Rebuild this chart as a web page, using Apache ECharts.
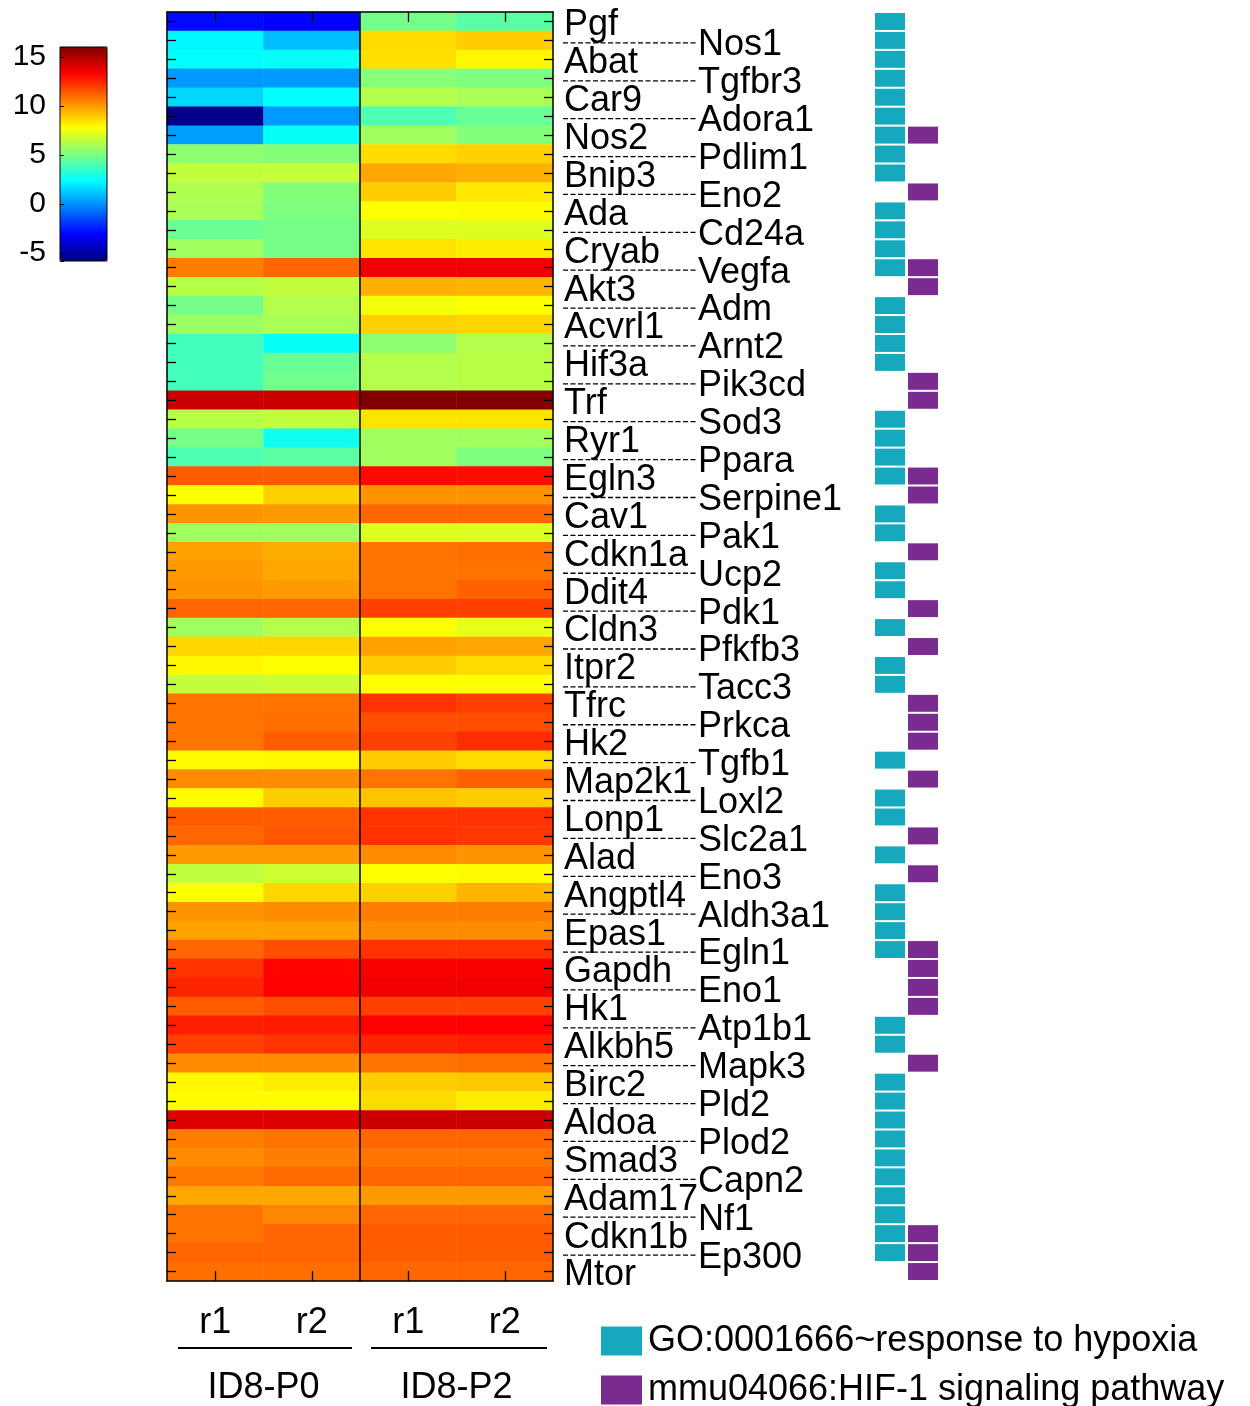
<!DOCTYPE html>
<html><head><meta charset="utf-8">
<script src="https://cdn.jsdelivr.net/npm/echarts@6/dist/echarts.min.js"></script>
<style>html,body{margin:0;padding:0;background:#fff}#c{width:1250px;height:1406px}</style>
</head><body><div id="c"></div>
<script>
const genes = ['Pgf','Nos1','Abat','Tgfbr3','Car9','Adora1','Nos2','Pdlim1','Bnip3','Eno2','Ada','Cd24a','Cryab','Vegfa','Akt3','Adm','Acvrl1','Arnt2','Hif3a','Pik3cd','Trf','Sod3','Ryr1','Ppara','Egln3','Serpine1','Cav1','Pak1','Cdkn1a','Ucp2','Ddit4','Pdk1','Cldn3','Pfkfb3','Itpr2','Tacc3','Tfrc','Prkca','Hk2','Tgfb1','Map2k1','Loxl2','Lonp1','Slc2a1','Alad','Eno3','Angptl4','Aldh3a1','Epas1','Egln1','Gapdh','Eno1','Hk1','Atp1b1','Alkbh5','Mapk3','Birc2','Pld2','Aldoa','Plod2','Smad3','Capn2','Adam17','Nf1','Cdkn1b','Ep300','Mtor'];
const sampleIds = ['P0-r1','P0-r2','P2-r1','P2-r2'];
const sampleLabels = ['r1','r2','r1','r2'];
const groups = ['ID8-P0','ID8-P2'];
const colorTicks = [-5,0,5,10,15];
const colorMin = -5.8, colorMax = 16;

const p0r1 = [-2.9,2.2,2.4,0.2,1.5,-5.6,0.3,5.4,6.5,6.1,6.0,4.7,5.8,10.6,6.3,4.9,5.7,3.8,3.8,3.8,14.4,6.3,4.9,4.0,11.3,7.8,10.1,5.8,9.8,10.0,10.1,11.1,5.8,8.7,8.0,6.5,10.8,10.8,10.8,7.9,10.3,7.9,11.3,11.1,10.0,6.5,7.8,10.1,9.8,11.1,12.2,12.5,11.3,12.6,11.9,10.3,8.0,7.9,14.0,10.6,10.3,10.7,9.7,10.8,10.8,11.1,10.9];
const p0r2 = [-3.1,1.0,2.5,0.2,2.4,0.2,2.5,5.2,6.6,5.2,5.1,4.9,4.9,11.1,6.5,6.2,6.0,2.5,4.6,4.8,14.4,6.5,2.7,4.3,11.3,8.8,10.0,5.8,9.6,9.7,10.0,11.1,6.2,8.7,7.8,6.7,10.8,10.9,11.3,8.0,10.3,8.9,11.3,11.4,10.0,6.8,8.7,10.3,9.8,11.6,13.2,13.3,11.6,12.7,12.2,10.3,8.2,7.9,14.0,10.8,10.6,11.0,9.7,10.4,11.1,11.1,10.9];
const p2r1 = [4.9,8.6,8.5,5.3,6.2,4.0,5.8,8.6,9.7,8.9,7.8,7.1,8.4,13.6,9.5,7.6,8.8,5.4,6.2,6.2,15.9,8.4,5.8,5.8,13.1,10.1,11.1,7.1,10.8,10.8,10.8,11.9,7.8,9.8,8.9,7.8,12.2,11.6,11.9,8.9,10.8,9.1,12.2,12.2,10.3,7.8,8.8,10.6,10.3,12.2,13.4,13.6,11.9,13.3,12.5,10.8,8.9,8.6,14.4,11.1,10.8,11.1,10.0,11.1,11.3,11.3,11.1];
const p2r2 = [4.3,8.9,8.0,5.1,6.0,4.6,5.2,8.8,9.5,8.3,7.9,7.1,8.2,13.6,9.4,7.8,8.7,6.2,6.3,6.3,15.9,8.4,5.8,5.1,13.0,10.1,11.1,7.1,10.9,10.8,11.2,11.9,7.3,9.7,8.6,7.8,11.9,11.6,12.3,8.6,11.2,8.9,12.2,12.1,10.1,7.9,9.4,10.6,10.3,12.2,13.4,13.6,11.9,13.3,12.6,10.9,9.0,8.2,14.4,11.1,10.8,11.1,10.0,11.1,11.3,11.3,11.1];

// annotation membership per row (1 = member)
const hypoxiaGO = [1,1,1,1,1,1,1,1,1,0,1,1,1,1,0,1,1,1,1,0,0,1,1,1,1,0,1,1,0,1,1,0,1,0,1,1,0,0,0,1,0,1,1,0,1,0,1,1,1,1,0,0,0,1,1,0,1,1,1,1,1,1,1,1,1,1,0];
const hif1Path  = [0,0,0,0,0,0,1,0,0,1,0,0,0,1,1,0,0,0,0,1,1,0,0,0,1,1,0,0,1,0,0,1,0,1,0,0,1,1,1,0,1,0,0,1,0,1,0,0,0,1,1,1,1,0,0,1,0,0,0,0,0,0,0,0,1,1,1];
const legendNames = ['GO:0001666~response to hypoxia','mmu04066:HIF-1 signaling pathway'];

const FONT = '"Liberation Sans", Arial, Helvetica, sans-serif';
const TEAL = '#16a9bd', PURPLE = '#7a2b8f';
const G = {left:167, top:12, width:386, height:1270};

const cols = [p0r1,p0r2,p2r1,p2r2];
const heatData = [];
cols.forEach((arr,j)=>arr.forEach((v,i)=>heatData.push([j,i,v])));

function labelItem(params, api){
  const i = api.value(1);
  const y = api.coord([0,i])[1];
  const cs = params.coordSys;
  const right = cs.x + cs.width;
  const txtStyle = (x,yy)=>({text:genes[i], x:x, y:yy, fill:'#000', fontSize:36, fontFamily:FONT,
      align:'left', verticalAlign:'middle', textAlign:'left', textVerticalAlign:'middle'});
  if (i % 2 === 0) {
    return {type:'text', style: txtStyle(right+11, y+4)};
  }
  return {type:'group', children:[
    {type:'line', shape:{x1:right+10, y1:y+2.5, x2:right+143, y2:y+2.5},
     style:{stroke:'#000', lineWidth:1.3, lineDash:[5,2.5]}},
    {type:'text', style: txtStyle(right+145, y+5)}
  ]};
}
function markerRenderer(dx, color){
  return function(params, api){
    const i = api.value(1);
    const y = api.coord([0,i])[1];
    const h = api.size([0,1])[1];
    const cs = params.coordSys;
    const right = cs.x + cs.width;
    return {type:'rect', shape:{x:right+dx, y:y-h/2+1, width:30, height:h-2}, style:{fill:color}};
  };
}
const rowsOf = flags => flags.map((f,i)=>f?[0,i]:null).filter(d=>d);

const axisLineStyle = {color:'#000', width:1.5};
const chart = echarts.init(document.getElementById('c'));
chart.setOption({
  animation:false,
  backgroundColor:'#fff',
  grid:[
    {left:G.left, top:G.top, width:G.width, height:G.height},
    {left:60, top:47, width:47, height:214, show:true, borderColor:'#000', borderWidth:1, z:10}
  ],
  xAxis:[
    {type:'category', gridIndex:0, data:sampleIds, position:'bottom', z:5,
     axisLine:{show:true, lineStyle:axisLineStyle},
     axisTick:{show:true, inside:true, alignWithLabel:true, length:10, lineStyle:{color:'#000', width:1.3}},
     axisLabel:{formatter:(v,idx)=>sampleLabels[idx], fontSize:36, fontFamily:FONT, color:'#000', margin:24},
     splitLine:{show:false}},
    {type:'category', gridIndex:0, data:sampleIds, position:'top', z:5,
     axisLine:{show:true, lineStyle:axisLineStyle},
     axisTick:{show:true, inside:true, alignWithLabel:true, length:10, lineStyle:{color:'#000', width:1.3}},
     axisLabel:{show:false}},
    {type:'category', gridIndex:0, data:groups, position:'bottom', offset:70, z:5,
     axisLine:{show:false}, axisTick:{show:false},
     axisLabel:{fontSize:36, fontFamily:FONT, color:'#000', margin:19}},
    {type:'value', gridIndex:1, show:false, min:0, max:1}
  ],
  yAxis:[
    {type:'category', gridIndex:0, data:genes, inverse:true, position:'left', z:5,
     axisLine:{show:true, lineStyle:axisLineStyle},
     axisTick:{show:true, inside:true, alignWithLabel:true, interval:0, length:9, lineStyle:{color:'#000', width:1.3}},
     axisLabel:{show:false}},
    {type:'category', gridIndex:0, data:genes, inverse:true, position:'right', z:5,
     axisLine:{show:true, lineStyle:axisLineStyle},
     axisTick:{show:true, inside:true, alignWithLabel:true, interval:0, length:9, lineStyle:{color:'#000', width:1.3}},
     axisLabel:{show:false}},
    {type:'value', gridIndex:1, min:colorMin, max:colorMax, position:'left', z:11,
     axisLine:{show:false},
     axisTick:{show:true, inside:true, length:4, lineStyle:{color:'#000', width:1}},
     splitLine:{show:false},
     axisLabel:{fontSize:30, fontFamily:FONT, color:'#000', margin:14,
       formatter:v=>colorTicks.indexOf(Math.round(v*1000)/1000)>=0 ? String(v) : ''}}
  ],
  visualMap:{
    type:'continuous', seriesIndex:0, min:colorMin, max:colorMax, calculable:false,
    orient:'vertical', left:60, top:47, itemWidth:47, itemHeight:214, padding:0,
    inRange:{color:['#00007f','#0000ff','#007fff','#00ffff','#7fff7f','#ffff00','#ff7f00','#ff0000','#7f0000']},
    textStyle:{color:'transparent'}, hoverLink:false
  },
  legend:{
    orient:'vertical', left:601, top:1323, width:640, height:120, itemWidth:41, itemHeight:29, itemGap:13, padding:0,
    selectedMode:false,
    data:legendNames.map(n=>({name:n, icon:'rect'})),
    textStyle:{fontSize:36, fontFamily:FONT, color:'#000', padding:[0,0,0,1]}
  },
  series:[
    {type:'heatmap', xAxisIndex:0, yAxisIndex:0, data:heatData, emphasis:{disabled:true}, z:2},
    {type:'custom', name:'labels', xAxisIndex:0, yAxisIndex:0, data:genes.map((g,i)=>[0,i]),
     renderItem:labelItem, clip:false, silent:true, z:6},
    {type:'custom', name:legendNames[0], xAxisIndex:0, yAxisIndex:0, data:rowsOf(hypoxiaGO),
     itemStyle:{color:TEAL}, renderItem:markerRenderer(322, TEAL), clip:false, silent:true},
    {type:'custom', name:legendNames[1], xAxisIndex:0, yAxisIndex:0, data:rowsOf(hif1Path),
     itemStyle:{color:PURPLE}, renderItem:markerRenderer(355, PURPLE), clip:false, silent:true}
  ],
  graphic:[
    {type:'line', z:100, shape:{x1:G.left+G.width/2, y1:G.top, x2:G.left+G.width/2, y2:G.top+G.height},
     style:{stroke:'#000', lineWidth:1.5}},
    {type:'line', z:100, shape:{x1:G.left+11, y1:1348, x2:G.left+G.width/2-8, y2:1348},
     style:{stroke:'#000', lineWidth:2}},
    {type:'line', z:100, shape:{x1:G.left+G.width/2+11, y1:1348, x2:G.left+G.width-6, y2:1348},
     style:{stroke:'#000', lineWidth:2}}
  ]
});
</script></body></html>
